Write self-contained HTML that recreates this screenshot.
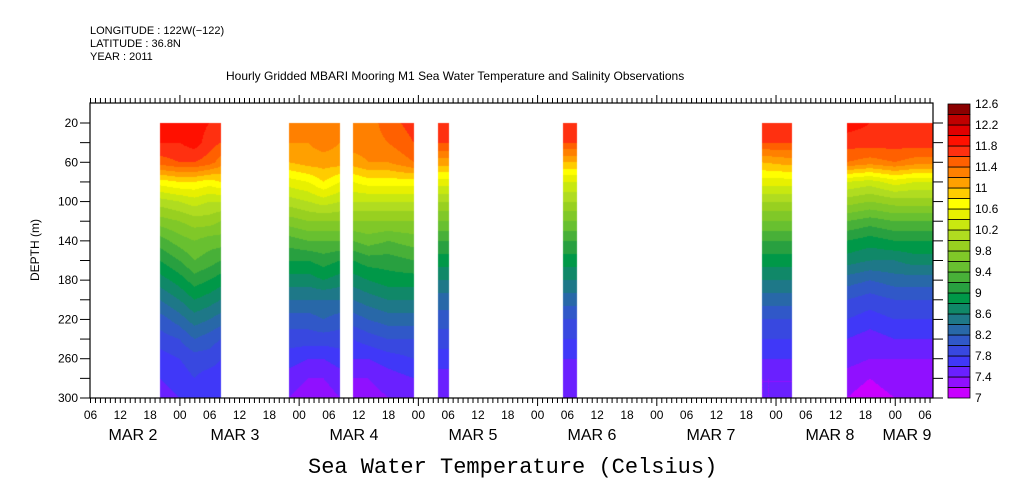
<!DOCTYPE html>
<html><head><meta charset="utf-8"><style>
body{margin:0;background:#fff;}
#wrap{position:relative;width:1009px;height:504px;overflow:hidden;background:#fff;font-family:"Liberation Sans",sans-serif;color:#000;}
.t{position:absolute;white-space:nowrap;font-size:12px;line-height:12px;}
</style></head><body>
<div id="wrap">
<div class="t" style="left:90px;top:25px;font-size:11px">LONGITUDE : 122W(−122)</div>
<div class="t" style="left:90px;top:38px;font-size:11px">LATITUDE : 36.8N</div>
<div class="t" style="left:90px;top:51px;font-size:11px">YEAR : 2011</div>
<div class="t" style="left:226px;top:70px;font-size:12px">Hourly Gridded MBARI Mooring M1 Sea Water Temperature and Salinity Observations</div>
<div class="t" style="left:308px;top:457px;font-family:'Liberation Mono',monospace;font-size:22px;line-height:22px">Sea Water Temperature (Celsius)</div>
<div class="t" style="left:35px;top:250px;transform:translate(-50%,-50%) rotate(-90deg);font-size:12px">DEPTH (m)</div>
<canvas id="cv" width="1009" height="504" style="position:absolute;left:0;top:0"></canvas>
<svg id="sv" width="1009" height="504" style="position:absolute;left:0;top:0"></svg>
</div>
<script>
const depths=[20,40,60,80,100,120,140,160,180,200,220,240,260,280,300];
const blockStart=[20,46,59,76,101.2,141.2,158.3];
const blockEnd=[32.3,56.3,71.2,78.2,104,147.4,176];
const colHours=[[20,24,27,30,32.3],[46,50,53,56.3],[59,62,66,71.2],[76,78.2],[101.2,104],[141.2,147.4],[158.3,163,168,172,176]];
const colTemps=[
[[11.9,11.8,11.5,10.7,10.1,9.7,9.3,9.0,8.7,8.4,8.1,7.9,7.7,7.6,7.5],
 [11.9,11.8,11.6,10.8,10.2,9.8,9.5,9.2,8.9,8.6,8.3,8.0,7.8,7.7,7.6],
 [11.9,11.9,11.6,10.8,10.3,9.9,9.6,9.4,9.1,8.8,8.5,8.2,7.9,7.8,7.6],
 [11.8,11.7,11.5,10.7,10.2,9.9,9.5,9.3,9.0,8.7,8.4,8.1,7.9,7.7,7.6],
 [11.7,11.6,11.3,10.8,10.2,9.8,9.5,9.2,8.9,8.6,8.3,8.0,7.8,7.7,7.6]],
[[11.3,11.2,11.0,10.5,10.1,9.7,9.3,9.0,8.7,8.4,8.1,7.9,7.7,7.5,7.4],
 [11.3,11.2,11.1,10.6,10.2,9.8,9.4,9.0,8.7,8.4,8.1,7.9,7.6,7.4,7.3],
 [11.3,11.3,11.1,10.8,10.3,9.8,9.4,9.1,8.8,8.4,8.2,7.9,7.6,7.4,7.3],
 [11.3,11.2,11.1,10.6,10.2,9.8,9.4,9.0,8.7,8.4,8.1,7.9,7.7,7.5,7.4]],
[[11.4,11.3,11.1,10.6,10.2,9.8,9.4,9.0,8.7,8.4,8.1,7.8,7.6,7.4,7.3],
 [11.3,11.3,11.2,10.7,10.2,9.8,9.5,9.1,8.8,8.5,8.2,7.9,7.6,7.4,7.3],
 [11.5,11.4,11.2,10.7,10.2,9.8,9.4,9.1,8.9,8.6,8.3,8.0,7.7,7.5,7.4],
 [11.7,11.6,11.4,10.7,10.2,9.8,9.5,9.2,8.9,8.6,8.3,8.0,7.8,7.6,7.5]],
[[11.7,11.6,11.1,10.5,10.0,9.6,9.2,8.9,8.6,8.3,8.1,7.9,7.7,7.5,7.4],
 [11.7,11.6,11.1,10.5,10.0,9.6,9.2,8.9,8.6,8.3,8.1,7.9,7.7,7.5,7.4]],
[[11.7,11.6,11.0,10.4,10.0,9.6,9.2,8.9,8.6,8.3,8.0,7.8,7.6,7.5,7.4],
 [11.7,11.6,11.0,10.4,10.0,9.6,9.2,8.9,8.6,8.3,8.0,7.8,7.6,7.5,7.4]],
[[11.7,11.6,11.0,10.5,10.0,9.6,9.2,8.9,8.6,8.3,8.0,7.8,7.6,7.4,7.4],
 [11.7,11.6,11.1,10.5,10.0,9.6,9.2,8.9,8.6,8.3,8.0,7.8,7.6,7.4,7.4]],
[[11.9,11.7,11.4,10.4,9.9,9.4,9.0,8.7,8.3,8.0,7.8,7.6,7.5,7.3,7.2],
 [11.8,11.7,11.3,10.3,9.8,9.3,8.9,8.6,8.2,7.9,7.7,7.5,7.4,7.2,7.1],
 [11.8,11.7,11.4,10.5,9.9,9.4,9.0,8.6,8.3,8.0,7.8,7.6,7.4,7.3,7.2],
 [11.8,11.7,11.3,10.4,9.9,9.4,9.0,8.7,8.3,8.0,7.8,7.6,7.4,7.3,7.2],
 [11.8,11.7,11.3,10.4,9.9,9.4,9.0,8.7,8.3,8.0,7.8,7.6,7.4,7.3,7.2]]];
const levelColors=['#c800ff','#9010ff','#6a20ff','#4038f8','#3848e0','#3058c8','#2868a8','#1e7888','#108868','#009848','#28a040','#48b038','#68c030','#80c828','#98d020','#b0dc20','#c8e810','#e8f000','#ffff00','#ffcc00','#ffa000','#ff8000','#ff6000','#ff3010','#ff1000','#e00000','#c00000','#8b0000'];
const cbLabels=['12.6','12.2','11.8','11.4','11','10.6','10.2','9.8','9.4','9','8.6','8.2','7.8','7.4','7'];
const hourTickLabels=['06','12','18','00'];
const dateLabels=['MAR  2','MAR  3','MAR  4','MAR  5','MAR  6','MAR  7','MAR  8','MAR  9'];
const dateLabelX=[133,235,354,473,592,711,830,907];
const depthLabels=[20,60,100,140,180,220,260,300];

const X0=90,X1=933,Y0=103,Y1=398,H0=6,H1=175.7;
const xs=h=>X0+(h-H0)*(X1-X0)/(H1-H0);
const hx=x=>H0+(x-X0)*(H1-H0)/(X1-X0);
const ys=d=>123+(d-20)*275/280;
const dy=y=>20+(y-123)*280/275;
const VMIN=7,VSTEP=0.2;

const cv=document.getElementById('cv'),ctx=cv.getContext('2d');
function interpCol(cols,hrs,h,k){
  if(h<=hrs[0])return cols[0][k];
  for(let i=0;i<hrs.length-1;i++){if(h<=hrs[i+1]){const f=(h-hrs[i])/(hrs[i+1]-hrs[i]);return cols[i][k]*(1-f)+cols[i+1][k]*f;}}
  return cols[cols.length-1][k];
}
for(let b=0;b<blockStart.length;b++){
  const xa=Math.round(xs(blockStart[b])),xb=Math.min(X1,Math.round(xs(blockEnd[b])));
  for(let x=xa;x<xb;x++){
    const h=hx(x+0.5);
    for(let y=123;y<398;y++){
      const d=dy(y+0.5);
      let k=Math.floor((d-20)/20);if(k<0)k=0;if(k>13)k=13;
      const f=(d-depths[k])/20;
      const v=interpCol(colTemps[b],colHours[b],h,k)*(1-f)+interpCol(colTemps[b],colHours[b],h,k+1)*f;
      let li=Math.floor((v-VMIN)/VSTEP);if(li<0)li=0;if(li>27)li=27;
      ctx.fillStyle=levelColors[li];ctx.fillRect(x,y,1,1);
    }
  }
}
const sv=document.getElementById('sv');const NS='http://www.w3.org/2000/svg';
function el(t,a,p){const e=document.createElementNS(NS,t);for(const k in a)e.setAttribute(k,a[k]);(p||sv).appendChild(e);return e;}
const frame=el('rect',{x:X0,y:Y0,width:X1-X0,height:Y1-Y0,fill:'none',stroke:'#000','stroke-width':1.2});


for(let h=6;h<=175;h++){
  const x=xs(h)+0.5;const major=(h%24===0);const L=major?8:5;
  el('line',{x1:x,y1:Y1,x2:x,y2:Y1+L,stroke:'#000','stroke-width':1});
  el('line',{x1:x,y1:Y0,x2:x,y2:Y0-L,stroke:'#000','stroke-width':1});
  if(h%6===0){
    const t=el('text',{x:x,y:419,'font-size':12,'text-anchor':'middle','font-family':'Liberation Sans, sans-serif'});
    t.textContent=hourTickLabels[((h/6)-1)%4];
    
    
  }
}
for(let i=0;i<dateLabels.length;i++){
  const t=el('text',{x:dateLabelX[i],y:440,'font-size':16,'text-anchor':'middle','font-family':'Liberation Sans, sans-serif','xml:space':'preserve'});
  t.textContent=dateLabels[i];
  
  
}
for(let d=20;d<=300;d+=20){
  const y=ys(d);
  el('line',{x1:X0-10,y1:y,x2:X0,y2:y,stroke:'#000','stroke-width':1});
  el('line',{x1:X1,y1:y,x2:X1+10,y2:y,stroke:'#000','stroke-width':1});
}
for(const d of depthLabels){
  const t=el('text',{x:78,y:ys(d)+4,'font-size':12,'text-anchor':'end','font-family':'Liberation Sans, sans-serif'});
  t.textContent=d;
  
  
}
const cbTop=104,cbBot=398,cbH=(cbBot-cbTop)/28;
for(let i=0;i<28;i++){
  const r=el('rect',{x:948,y:cbBot-(i+1)*cbH,width:22,height:cbH,fill:levelColors[i],stroke:'#000','stroke-width':0.8});
  
  
}
for(let i=0;i<cbLabels.length;i++){
  const t=el('text',{x:975,y:cbTop+i*2*cbH+4,'font-size':12,'font-family':'Liberation Sans, sans-serif'});
  t.textContent=cbLabels[i];
  
  
}
</script>
</body></html>
